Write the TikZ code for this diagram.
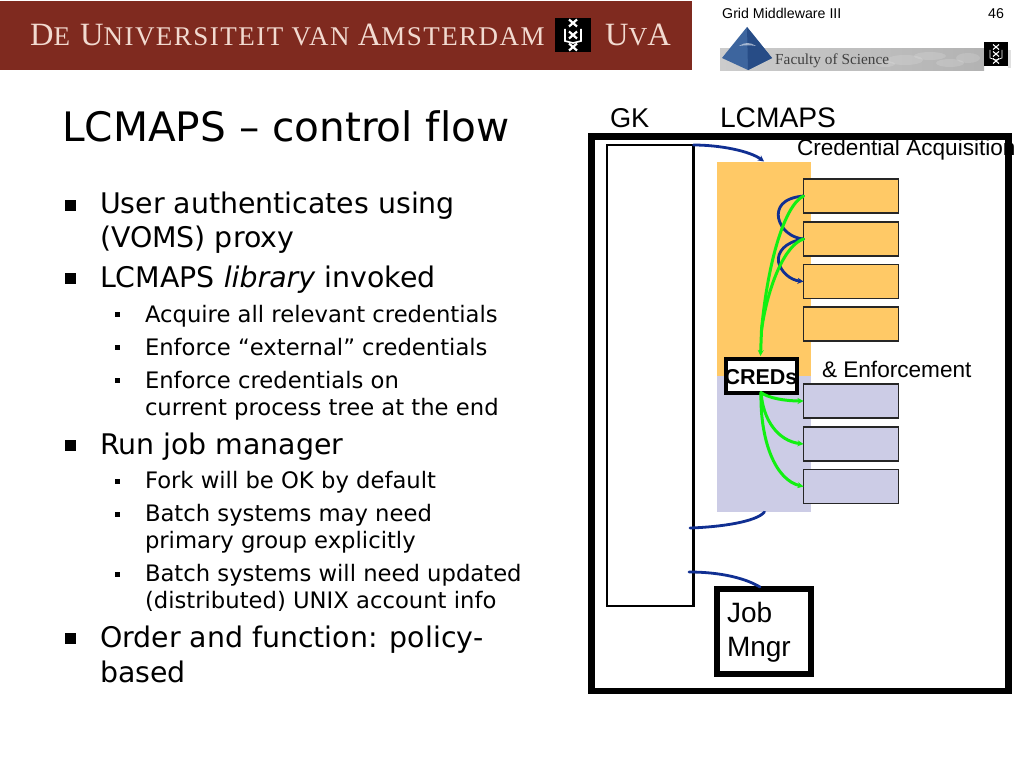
\documentclass[tikz,border=0pt]{standalone}
\usepackage{fontspec}
\setmainfont{DejaVu Sans}
\newfontfamily\arialf{Liberation Sans}
\newfontfamily\timesf{Liberation Serif}
\newfontfamily\timessp[LetterSpace=5.5]{Liberation Serif}
\usetikzlibrary{arrows.meta}
\definecolor{banner}{HTML}{7F2A1F}
\definecolor{bannertext}{HTML}{F2DAD0}
\definecolor{orangefill}{HTML}{FFC966}
\definecolor{lavfill}{HTML}{CCCCE6}
\definecolor{navyline}{HTML}{102F92}
\definecolor{greenline}{HTML}{12F012}
\definecolor{pyrdark}{HTML}{274C86}
\definecolor{pyrmid}{HTML}{3D659E}
\newcommand{\fsz}[1]{\fontsize{#1}{#1}\selectfont}
\tikzset{
 x=1pt,y=-1pt,
 main/.style={anchor=base west,inner sep=0pt,outer sep=0pt,font=\fsz{28.4}},
 sub/.style={anchor=base west,inner sep=0pt,outer sep=0pt,font=\fsz{22.7}},
 dia/.style={anchor=base west,inner sep=0pt,outer sep=0pt,font=\arialf\fsz{22.6}},
 plain/.style={inner sep=0pt,outer sep=0pt,anchor=north west},
 acq/.style={plain,draw=black!85,line width=1.2pt,fill=orangefill,minimum width=95pt,minimum height=34pt},
 enf/.style={plain,draw=black!85,line width=1.2pt,fill=lavfill,minimum width=95pt,minimum height=34pt},
 navyarrow/.style={draw=navyline,line width=2.8pt,line cap=round},
 greenarrow/.style={draw=greenline,line width=3pt,line cap=round},
 tipn/.style={-{Stealth[length=6pt,width=6pt]}},
 crestmark/.style={white,line width=1.1pt},
}
\begin{document}
\begin{tikzpicture}
\useasboundingbox[fill=white] (0,0) rectangle (1024,768);
% banner
\fill[banner] (0,1) rectangle (692,70);
\node[anchor=base west,inner sep=0pt,text=bannertext,font=\timessp\fsz{32.5}] (uvaname) at (30,45.5) {D\fsz{27}E\fsz{32.5} U\fsz{27}NIVERSITEIT VAN \fsz{32.5}A\fsz{27}MSTERDAM};
\node[anchor=base west,inner sep=0pt,text=bannertext,font=\timesf\fsz{32.5}] (uvashort) at (605,45.5) {U\fsz{26}V\fsz{32.5}A};
\fill[black] (555,18) rectangle (591,52);
\foreach \yy in {23,35,47}{\draw[crestmark,line width=2.2pt] (569,\yy-3.5) -- (577,\yy+3.5) (577,\yy-3.5) -- (569,\yy+3.5);}
\draw[white,line width=1.6pt] (565,29) -- (565,41) -- (573,43) -- (581,41) -- (581,29);
% faculty
\shade[left color=black!20,right color=black!30] (720,49) rectangle (984,70);
\fill[black!12] (1008,50) rectangle (1011,68);
\foreach \xx/\yy/\rx/\ry in {905/60/18/5,930/56/16/4,950/63/14/4,968/58/12/5,885/64/10/3}{\fill[white,opacity=.14] (\xx,\yy) ellipse ({\rx} and {\ry});}
\fill[black] (984,42) rectangle (1008,66);
\foreach \yy in {47,54,61}{\draw[crestmark] (993,\yy-2.5) -- (999,\yy+2.5) (999,\yy-2.5) -- (993,\yy+2.5);}
\draw[white,line width=.7pt] (990,50) -- (990,58) -- (996,60) -- (1002,58) -- (1002,50);
\fill[pyrmid] (747,27) -- (772,58) -- (748,70) -- (722,58) -- cycle;
\fill[pyrdark] (747,27) -- (772,58) -- (748,70) -- cycle;
\fill[white,opacity=.55] (739,46) .. controls (745,42) and (750,42) .. (756,46) .. controls (750,45) and (745,45) .. cycle;
\node[anchor=base west,inner sep=0pt,text=black!75,font=\timesf\fsz{15.3}] (faculty) at (775,64) {Faculty of Science};
% header
\node[anchor=base west,inner sep=0pt,font=\arialf\fsz{14.2}] (hdr) at (722,19) {Grid Middleware III};
\node[anchor=base west,inner sep=0pt,font=\arialf\fsz{14.2}] (pagenum) at (988,19) {46};
% title
\node[anchor=base west,inner sep=0pt,font=\fsz{40.6}] (title) at (62,141) {LCMAPS – control f\kern0pt low};
% bullets
\foreach \yy in {205,278,445,638}{\fill (64.5,\yy-5.5+0) rectangle +(11,11);}
\foreach \yy in {314,347,380,481,514,574}{\fill (114.5,\yy-2.5) rectangle +(5,5);}
\node[main] (b1) at (100,213) {User authenticates using};
\node[main] (b1b) at (100,247) {(VOMS) proxy};
\node[main] (b2) at (100,287) {LCMAPS \textit{library} invoked};
\node[sub] (s1) at (145,322) {Acquire all relevant credentials};
\node[sub] (s2) at (145,355) {Enforce “external” credentials};
\node[sub] (s3) at (145,388) {Enforce credentials on};
\node[sub] (s3b) at (145,415) {current process tree at the end};
\node[main] (b3) at (100,454) {Run job manager};
\node[sub] (s4) at (145,488) {Fork will be OK by default};
\node[sub] (s5) at (145,521) {Batch systems may need};
\node[sub] (s5b) at (145,548) {primary group explicitly};
\node[sub] (s6) at (145,581) {Batch systems will need updated};
\node[sub] (s6b) at (145,608) {(distributed) UNIX account info};
\node[main] (b4) at (100,647) {Order and function: policy-};
\node[main] (b4b) at (100,682) {based};
% diagram
\node[dia,font=\arialf\fsz{27.2}] (gklabel) at (610,127) {GK};
\node[dia,font=\arialf\fsz{28.2}] (lclabel) at (720,127) {LCMAPS};
\node[plain,draw=black,line width=6.5pt,minimum width=417pt,minimum height=554.5pt] (frame) at (591.5,136.5) {};
\node[plain,draw=black,line width=2.6pt,minimum width=86.5pt,minimum height=461pt] (gk) at (607,145) {};
\node[plain,fill=orangefill,minimum width=94pt,minimum height=214pt] (orange) at (717,162) {};
\node[plain,fill=lavfill,minimum width=94pt,minimum height=136pt] (lav) at (717,376) {};
\node[acq] (a1) at (803.5,179) {};
\node[acq] (a2) at (803.5,222) {};
\node[acq] (a3) at (803.5,264.5) {};
\node[acq] (a4) at (803.5,307) {};
\node[enf] (e1) at (803.5,384) {};
\node[enf] (e2) at (803.5,427) {};
\node[enf] (e3) at (803.5,469.5) {};
\node[plain,draw=black,line width=4pt,fill=white,minimum width=71pt,minimum height=34pt] (creds) at (725.5,358.5) {};
\node[anchor=center,inner sep=0pt,font=\arialf\bfseries\fsz{21.5}] (credstext) at (761,377) {CREDs};
\node[plain,draw=black,line width=6pt,fill=white,minimum width=94pt,minimum height=85pt] (job) at (717,589) {};
\node[dia,font=\arialf\fsz{28}] (job1) at (727,622) {Job};
\node[dia,font=\arialf\fsz{28}] (job2) at (727,656) {Mngr};
\node[dia] (credacq) at (797,155) {Credential Acquisition};
\node[dia] (enfl) at (822,377) {\& Enforcement};
% connectors
\coordinate (gkback) at (690,528);
\coordinate (gkjob) at (689,572);
\coordinate (orangein) at (764,161.5);
\coordinate (lavout) at (764.5,512);
\coordinate (jobin) at (760,587);
\draw[navyarrow,tipn] (gk.north east) .. controls (720,145) and (750,151) .. (orangein);
\draw[navyarrow] (a1.west) .. controls (782,198) and (777,208) .. (778.5,218) .. controls (781,230) and (792,238) .. (a2.west);
\draw[navyarrow,tipn] (a2.west) .. controls (785,242) and (777,252) .. (778.5,262) .. controls (781,272) and (790,280) .. (a3.west);
\draw[greenarrow] (a1.west) .. controls (785,205) and (768,260) .. (761.5,330);
\draw[greenarrow] (a2.west) .. controls (785,245) and (768,285) .. (761.5,330);
\draw[greenarrow,tipn] (761.5,330) -- (760.5,356);
\draw[greenarrow,tipn] (creds.south) .. controls (768,398) and (785,401) .. (e1.west);
\draw[greenarrow,tipn] (creds.south) .. controls (763,420) and (778,441) .. (e2.west);
\draw[greenarrow,tipn] (creds.south) .. controls (760,440) and (775,480) .. (e3.west);
\draw[navyarrow] (lavout) .. controls (756,522) and (720,527) .. (gkback);
\draw[navyarrow] (gkjob) .. controls (720,572) and (745,578) .. (jobin);
\end{tikzpicture}
\end{document}
